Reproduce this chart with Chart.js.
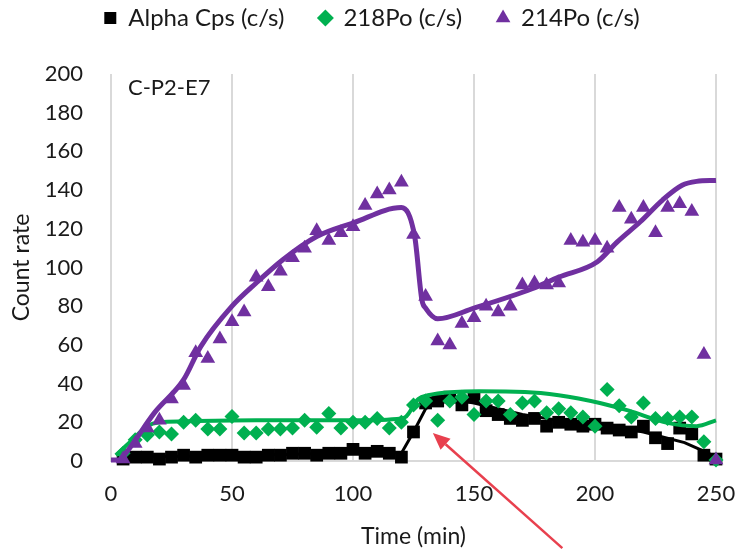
<!DOCTYPE html>
<html>
<head>
<meta charset="utf-8">
<title>Radon progeny count rates</title>
<script src="https://cdn.jsdelivr.net/npm/chart.js@4.4.1/dist/chart.umd.min.js"></script>
<style>
  html, body { margin: 0; padding: 0; background: #ffffff; }
  #wrap { width: 736px; height: 550px; position: relative; }
</style>
</head>
<body>
<div id="wrap"><canvas id="chart"></canvas></div>
<script>
// Sampling times (minutes)
const timeMin = [5, 10, 15, 20, 25, 30, 35, 40, 45, 50, 55, 60, 65, 70, 75, 80, 85, 90, 95, 100,
  105, 110, 115, 120, 125, 130, 135, 140, 145, 150, 155, 160, 165, 170, 175, 180, 185, 190, 195, 200,
  205, 210, 215, 220, 225, 230, 235, 240, 245, 250];

// Measured count rates (c/s)
const alphaCps = [1, 2, 2, 1, 2, 3, 2, 3, 3, 3, 2, 2, 3, 3, 4, 4, 3, 4, 4, 6,
  4, 5, 4, 2, 15, 30, 31, 33, 29, 33, 26, 24, 22, 21, 22, 18, 20, 19, 18, 19,
  17, 16, 15, 18, 12, 9, 17, 14, 3, 1];
const po218 = [4, 11, 13.5, 15, 14, 20, 21, 16.5, 16.5, 23, 14.5, 14.5, 16.5, 16.5, 17, 21, 17.5, 24.5, 17, 20,
  20, 22, 17, 20, 29, 31, 21, 31, 33, 24, 31, 31, 24, 30, 31, 25, 27, 25, 22.7, 18,
  37, 28.5, 22.7, 30, 22, 22, 22.7, 22.7, 10, 0.5];
const po214 = [1, 9, 17, 21, 32, 39, 56, 53, 63, 72, 77, 95, 90, 98, 105, 110, 119, 114, 118, 121,
  132, 138, 140, 144, 117, 85, 62, 60, 71, 74, 80, 77, 80, 91, 92, 91, 92, 114, 113, 114,
  110, 131, 125, 131, 118, 131, 133, 129, 55, 0.5];

// Smoothed trend curves
const alphaFitT = [3, 30, 60, 90, 110, 120, 125, 130, 135, 140, 150, 160, 170, 185, 200, 220, 237, 247, 250];
const alphaFitV = [2, 2.5, 3, 4, 4.5, 4, 15, 27, 31, 32, 30, 27, 24, 21, 20, 15, 9.5, 4, 1.5];
const po218FitT = [2, 8, 15, 20, 30, 60, 100, 120, 122, 127, 131, 142, 152, 171, 185, 202, 214, 230, 242, 250];
const po218FitV = [3, 10, 18, 20, 20.5, 21, 21, 22, 23, 32, 34, 35.7, 36, 35.7, 34, 30, 26, 19.7, 18, 21];
const po214FitT = [0, 3, 6, 18, 30, 37, 50, 60, 71, 85, 100, 120, 125.5, 128.5, 130, 135, 150, 174, 185, 201, 209, 218.6, 228, 236, 242, 250];
const po214FitV = [0.5, 0.5, 4, 25, 42, 59, 80, 92, 104, 116, 123, 131, 116, 83, 79, 73.5, 79, 89, 95, 103, 113, 123.5, 135, 142.5, 144.5, 145];

// Axis ticks
const xTicks = [0, 50, 100, 150, 200, 250];
const yTicks = [0, 20, 40, 60, 80, 100, 120, 140, 160, 180, 200];

// Run label and arrow (in data units)
const runLabel = 'C-P2-E7';
const runLabelPos = [7, 193];
const arrowTip = [133, 14.5];
const arrowTail = [186.5, -45];

const BLACK = '#000000';
const GREEN = '#00b050';
const PURPLE = '#7030a0';
const GRID = '#d9d9d9';
const TEXT = '#1a1a1a';

const pairs = (xs, ys) => xs.map((x, i) => ({ x, y: ys[i] }));

Chart.defaults.font.family = 'Lato';
Chart.defaults.color = TEXT;

// Extra room beneath the legend row
const legendRoom = {
  id: 'legendRoom',
  beforeInit(chart) {
    const fit = chart.legend.fit;
    chart.legend.fit = function () {
      fit.call(this);
      this.height = 103;
    };
  }
};

// Run label and pointing arrow
const annotations = {
  id: 'annotations',
  afterDraw(chart) {
    const { ctx, scales: { x, y } } = chart;
    ctx.save();
    ctx.font = '22px Lato';
    ctx.fillStyle = TEXT;
    ctx.textAlign = 'left';
    ctx.textBaseline = 'middle';
    ctx.fillText(runLabel, x.getPixelForValue(runLabelPos[0]), y.getPixelForValue(runLabelPos[1]));

    const tx = x.getPixelForValue(arrowTip[0]), ty = y.getPixelForValue(arrowTip[1]);
    const sx = x.getPixelForValue(arrowTail[0]), sy = y.getPixelForValue(arrowTail[1]);
    const ang = Math.atan2(ty - sy, tx - sx);
    const headLen = 17, headHalf = 7.5;
    const bx = tx - Math.cos(ang) * headLen, by = ty - Math.sin(ang) * headLen;
    ctx.strokeStyle = '#e8404e';
    ctx.fillStyle = '#e8404e';
    ctx.lineWidth = 2.5;
    ctx.beginPath();
    ctx.moveTo(sx, sy);
    ctx.lineTo(bx, by);
    ctx.stroke();
    ctx.beginPath();
    ctx.moveTo(tx, ty);
    ctx.lineTo(bx + Math.sin(ang) * headHalf, by - Math.cos(ang) * headHalf);
    ctx.lineTo(bx - Math.sin(ang) * headHalf, by + Math.cos(ang) * headHalf);
    ctx.closePath();
    ctx.fill();
    ctx.restore();
  }
};

new Chart(document.getElementById('chart'), {
  type: 'scatter',
  data: {
    datasets: [
      {
        label: 'Alpha Cps (c/s)',
        data: pairs(timeMin, alphaCps),
        pointStyle: 'rect',
        pointRadius: 9,
        pointHoverRadius: 9,
        backgroundColor: BLACK,
        borderColor: BLACK,
        borderWidth: 0,
        clip: false,
        order: 5
      },
      {
        label: '218Po (c/s)',
        data: pairs(timeMin, po218),
        pointStyle: 'rectRot',
        pointRadius: 7.5,
        pointHoverRadius: 7.5,
        backgroundColor: GREEN,
        borderColor: GREEN,
        borderWidth: 0,
        clip: false,
        order: 3
      },
      {
        label: '214Po (c/s)',
        data: pairs(timeMin, po214),
        pointStyle: 'triangle',
        pointRadius: 8.5,
        pointHoverRadius: 8.5,
        backgroundColor: PURPLE,
        borderColor: PURPLE,
        borderWidth: 0,
        clip: false,
        order: 1
      },
      {
        label: 'Alpha Cps trend',
        trend: true,
        data: pairs(alphaFitT, alphaFitV),
        showLine: true,
        pointRadius: 0,
        borderColor: BLACK,
        backgroundColor: BLACK,
        borderWidth: 3,
        tension: 0,
        clip: false,
        order: 4
      },
      {
        label: '218Po trend',
        trend: true,
        data: pairs(po218FitT, po218FitV),
        showLine: true,
        pointRadius: 0,
        borderColor: GREEN,
        backgroundColor: GREEN,
        borderWidth: 4,
        cubicInterpolationMode: 'monotone',
        clip: false,
        order: 2
      },
      {
        label: '214Po trend',
        trend: true,
        data: pairs(po214FitT, po214FitV),
        showLine: true,
        pointRadius: 0,
        borderColor: PURPLE,
        backgroundColor: PURPLE,
        borderWidth: 5,
        cubicInterpolationMode: 'monotone',
        clip: false,
        order: 0
      }
    ]
  },
  options: {
    responsive: true,
    maintainAspectRatio: false,
    animation: false,
    layout: { padding: { top: -29, right: 0, bottom: 0, left: 8 } },
    plugins: {
      tooltip: { enabled: false },
      legend: {
        position: 'top',
        labels: {
          usePointStyle: true,
          boxWidth: 12,
          boxHeight: 12,
          padding: 35,
          color: TEXT,
          font: { size: 24 },
          filter: (item, data) => !data.datasets[item.datasetIndex].trend,
          sort: (a, b) => a.datasetIndex - b.datasetIndex
        }
      }
    },
    scales: {
      x: {
        type: 'linear',
        min: 0,
        max: 250,
        afterBuildTicks: (scale) => { scale.ticks = xTicks.map(v => ({ value: v })); },
        afterFit: (scale) => {
          scale.height = 89;
          scale.paddingLeft = 0;
          scale.paddingRight = 20;
        },
        grid: { display: true, color: GRID, lineWidth: 2, drawTicks: false },
        border: { display: true, color: GRID, width: 2 },
        ticks: { padding: 20, color: TEXT, font: { size: 22 } },
        title: { display: true, text: 'Time (min)', color: TEXT, font: { size: 23 }, padding: { top: 0, bottom: 0 } }
      },
      y: {
        type: 'linear',
        min: 0,
        max: 200,
        afterBuildTicks: (scale) => { scale.ticks = yTicks.map(v => ({ value: v })); },
        afterFit: (scale) => { scale.width = 103; },
        grid: { display: false, drawTicks: false },
        border: { display: false },
        ticks: { padding: 28, color: TEXT, font: { size: 22 } },
        title: { display: true, text: 'Count rate', color: TEXT, font: { size: 23 }, padding: { top: 0, bottom: 0 } }
      }
    }
  },
  plugins: [legendRoom, annotations]
});
</script>
</body>
</html>
